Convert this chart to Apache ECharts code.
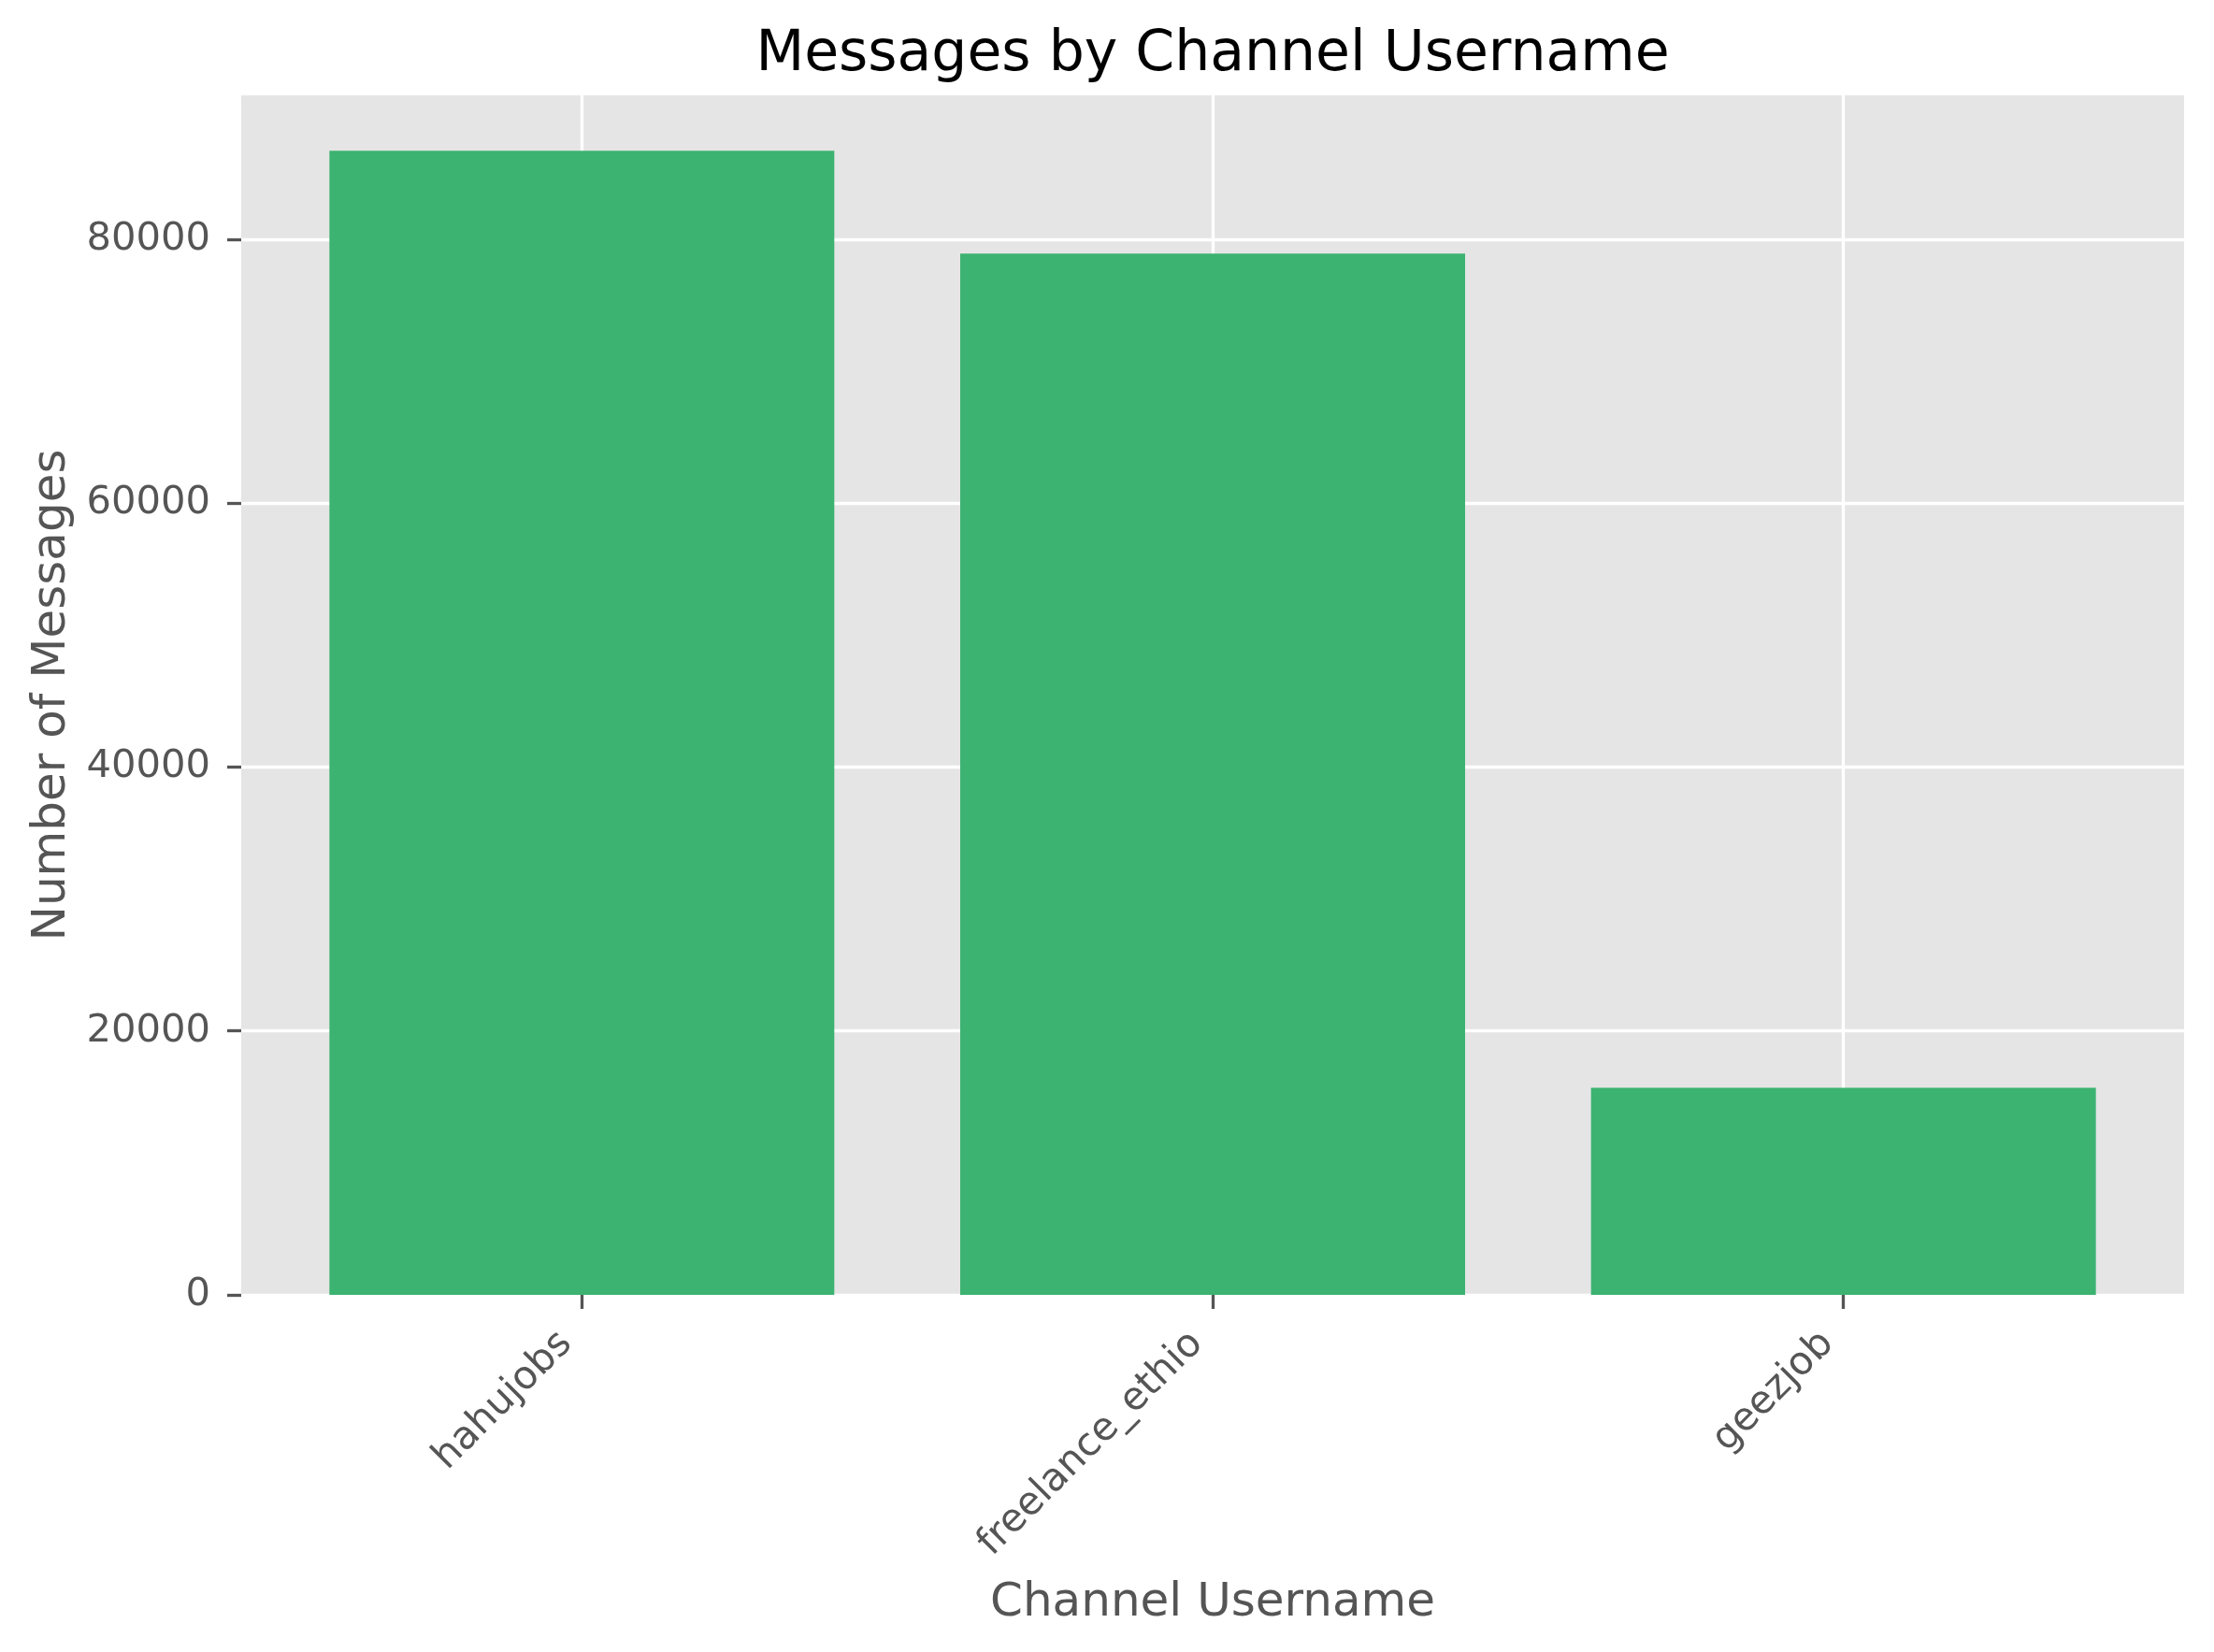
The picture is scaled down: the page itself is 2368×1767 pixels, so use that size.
<!DOCTYPE html>
<html>
<head>
<meta charset="utf-8">
<script src="https://cdn.jsdelivr.net/npm/echarts@6/dist/echarts.min.js"></script>
<style>
html,body{margin:0;padding:0;background:#fff;}
#chart{width:2368px;height:1767px;}
</style>
</head>
<body>
<div id="chart"></div>
<script>
// ---- data ----
const categories = ['hahujobs', 'freelance_ethio', 'geezjob'];
const messageCounts = [86700, 78900, 15700];
const yTicks = [0, 20000, 40000, 60000, 80000];
const yMax = 90900;
const xTickPositions = [0, 1, 2];

const FONT = 'DejaVu Sans';
const chart = echarts.init(document.getElementById('chart'), null, {renderer: 'canvas'});

const option = {
  backgroundColor: '#ffffff',
  animation: false,
  title: {
    text: 'Messages by Channel Username',
    left: 1297,
    textAlign: 'center',
    top: 29,
    padding: 0,
    textStyle: {fontFamily: FONT, fontSize: 60, fontWeight: 'normal', color: '#000000'}
  },
  grid: {
    left: 258, top: 102, width: 2078, height: 1283,
    show: true, backgroundColor: '#E5E5E5', borderWidth: 0,
    containLabel: false
  },
  xAxis: {
    type: 'value',
    min: -0.54, max: 2.54,
    name: 'Channel Username',
    nameLocation: 'middle',
    nameGap: 305,
    nameTextStyle: {fontFamily: FONT, fontSize: 50, color: '#555555'},
    axisLine: {show: false, onZero: false},
    axisTick: {show: true, customValues: xTickPositions, length: 15, lineStyle: {color: '#555555', width: 3.3}},
    axisLabel: {
      customValues: xTickPositions,
      rotate: 45,
      margin: 29,
      padding: [0, 24, 0, 0],
      fontFamily: FONT, fontSize: 41.7, color: '#555555',
      formatter: function (v) { return categories[Math.round(v)] || ''; }
    },
    splitLine: {show: true, lineStyle: {color: '#ffffff', width: 3.3}}
  },
  yAxis: {
    type: 'value',
    min: 0, max: yMax,
    name: 'Number of Messages',
    nameLocation: 'middle',
    nameGap: 172,
    nameTextStyle: {fontFamily: FONT, fontSize: 50, color: '#555555'},
    axisLine: {show: false, onZero: false},
    axisTick: {show: true, customValues: yTicks, length: 15, lineStyle: {color: '#555555', width: 3.3}},
    axisLabel: {
      customValues: yTicks,
      margin: 33,
      fontFamily: FONT, fontSize: 41.7, color: '#555555',
      formatter: function (v) { return String(v); }
    },
    splitLine: {show: true, lineStyle: {color: '#ffffff', width: 3.3}}
  },
  series: [{
    type: 'bar',
    data: categories.map((c, i) => [i, messageCounts[i]]),
    barWidth: 540,
    itemStyle: {color: '#3CB371'},
    z: 3
  }]
};
chart.setOption(option);
</script>
</body>
</html>
